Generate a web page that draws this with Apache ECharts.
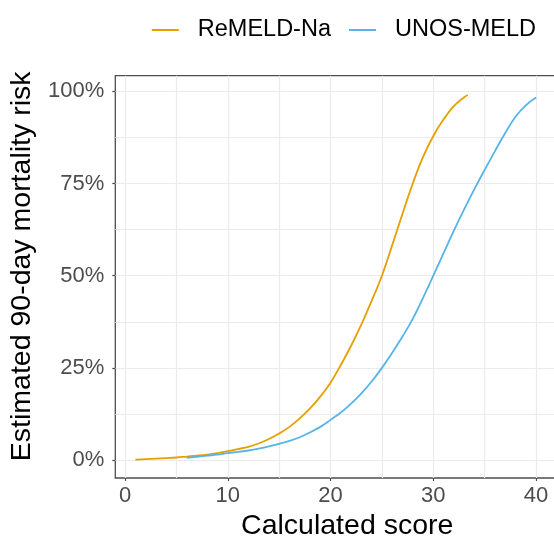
<!DOCTYPE html>
<html>
<head>
<meta charset="utf-8">
<script src="https://cdn.jsdelivr.net/npm/echarts@6/dist/echarts.min.js"></script>
<style>
html,body{margin:0;padding:0;background:#fff;}
#chart{width:554px;height:538px;}
</style>
</head>
<body>
<div id="chart"></div>
<script>
// ReMELD-Na curve (score, estimated 90-day mortality %)
const remeldScore = [1,2,3,4,5,6,7,8,9,10,11,12,13,14,15,16,17,18,19,20,21,22,23,24,25,26,27,28,29,30,31,32,33,33.35];
const remeldRisk  = [0.1,0.25,0.4,0.55,0.7,0.95,1.2,1.5,1.9,2.4,3.0,3.6,4.5,5.7,7.2,9.0,11.3,14.0,17.2,21.0,25.8,31.0,36.8,43.2,50,58.3,66.8,75.0,82.2,87.9,92.4,96.0,98.4,99.0];
// UNOS-MELD curve
const unosScore = [6,7,8,9,10,11,12,13,14,15,16,17,18,19,20,21,22,23,24,25,26,27,28,29,30,31,32,33,34,35,36,37,38,39,40];
const unosRisk  = [0.6,0.9,1.2,1.5,1.9,2.2,2.6,3.1,3.7,4.4,5.2,6.2,7.5,9.0,10.9,12.9,15.3,18.1,21.3,25,29.1,33.5,38.3,44.0,50,56.1,62.2,68.0,73.5,78.7,83.8,88.7,93.1,96.2,98.3];
// axis ticks and grid lines
const xTicks = [0,10,20,30,40];
const xMinorGrid = [5,15,25,35];
const yTicks = [0,25,50,75,100];
const yMinorGrid = [12.5,37.5,62.5,87.5];
const seriesNames = ['ReMELD-Na','UNOS-MELD'];

const pairs = (xs, ys) => xs.map((x, i) => [x, ys[i]]);
const xMin = -0.95, xMax = 41.95, yMin = -4.86, yMax = 104.24;
const gridCol = '#ebebeb';
const axisCol = '#4d4d4d';
const font = 'Liberation Sans, Arial, sans-serif';

const chart = echarts.init(document.getElementById('chart'), null, {renderer:'canvas'});
chart.setOption({
  animation: false,
  backgroundColor: '#fff',
  legend: {
    data: seriesNames,
    right: 13, top: 13,
    icon: 'rect', itemWidth: 27, itemHeight: 2, itemGap: 18,
    textStyle: {fontSize: 23.5, color: '#000', fontFamily: font, padding: [0,0,0,14]}
  },
  grid: {
    left: 115.3, top: 75.7, width: 440.8, height: 402.3,
    containLabel: false, outerBoundsMode: 'none',
    show: true, borderColor: axisCol, borderWidth: 1.3, backgroundColor: 'transparent'
  },
  xAxis: {
    type: 'value', min: xMin, max: xMax, position: 'bottom',
    axisLine: {show: false, onZero: false},
    axisTick: {show: true, customValues: xTicks, length: 3, lineStyle: {color: axisCol, width: 1.2}},
    axisLabel: {customValues: xTicks, fontSize: 22, color: axisCol, margin: 7, fontFamily: font},
    splitLine: {show: true, lineStyle: {color: gridCol, width: 1.2}},
    name: 'Calculated score', nameLocation: 'middle', nameGap: 27,
    nameTextStyle: {fontSize: 28.5, color: '#000', fontFamily: font, padding: [0,0,0,23]}
  },
  yAxis: {
    type: 'value', min: yMin, max: yMax, position: 'left',
    axisLine: {show: false, onZero: false},
    axisTick: {show: true, customValues: yTicks, length: 3, lineStyle: {color: axisCol, width: 1.2}},
    axisLabel: {customValues: yTicks, fontSize: 22, color: axisCol, margin: 11, fontFamily: font, formatter: '{value}%'},
    splitLine: {show: true, lineStyle: {color: gridCol, width: 1.2}},
    name: 'Estimated 90-day mortality risk', nameLocation: 'middle', nameGap: 77,
    nameTextStyle: {fontSize: 28.5, color: '#000', fontFamily: font, padding: [0,0,0,21]}
  },
  series: [
    {
      type: 'line', data: [], silent: true, z: 0,
      markLine: {
        silent: true, symbol: 'none', z: 1, animation: false,
        label: {show: false},
        lineStyle: {color: gridCol, width: 1.2, type: 'solid'},
        emphasis: {disabled: true},
        data: xMinorGrid.map(v => ({xAxis: v})).concat(yMinorGrid.map(v => ({yAxis: v})))
      }
    },
    {
      name: seriesNames[0], type: 'line', z: 3,
      data: pairs(remeldScore, remeldRisk), symbol: 'none', smooth: 0.4,
      color: '#E69F00', lineStyle: {width: 1.8, color: '#E69F00'}
    },
    {
      name: seriesNames[1], type: 'line', z: 3,
      data: pairs(unosScore, unosRisk), symbol: 'none', smooth: 0.4,
      color: '#56B4E9', lineStyle: {width: 1.8, color: '#56B4E9'}
    }
  ]
});
</script>
</body>
</html>
